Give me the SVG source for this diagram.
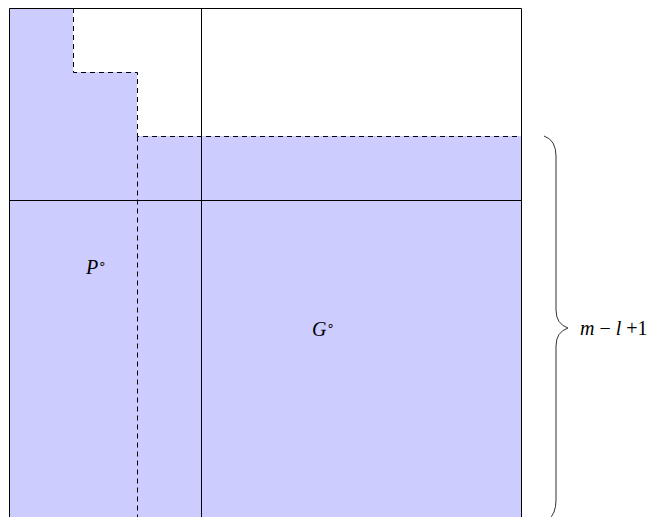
<svg xmlns="http://www.w3.org/2000/svg" width="650" height="517" viewBox="0 0 650 517">
<style>
.solid{fill:none;stroke:#000;stroke-width:1}
.dash{fill:none;stroke:#000;stroke-width:1;stroke-dasharray:5,4}
.lbl{font-family:"Liberation Serif",serif;font-style:italic;font-size:20px;fill:#000}
.up{font-family:"Liberation Serif",serif;font-style:normal;font-size:20px;fill:#000}
.sup{font-family:"DejaVu Sans",sans-serif;font-style:normal;font-size:13px;fill:#000}
</style>
<rect width="650" height="517" fill="#fff"/>
<g id="shade">
<path d="M9.5,8 H73 V72 H137 V136 H521.5 V530 H9.5 Z" fill="#ccccff"/>
</g>
<g id="frame">
<path class="solid" d="M9.5,530 V8.5 H521.5 V530"/>
<line class="solid" x1="201.5" y1="8" x2="201.5" y2="530"/>
<line class="solid" x1="9.5" y1="200.5" x2="521.5" y2="200.5"/>
</g>
<g id="staircase">
<path class="dash" d="M73.5,8 V72.5 H137.5 V136.5 H521.5"/>
<line class="dash" x1="137.5" y1="136.5" x2="137.5" y2="530"/>
</g>
<g id="brace">
<path fill="none" stroke="#333" stroke-width="1" d="M544,136 Q556,140 556,156 V310 Q556,324 568,328 Q556,332 556,346 V500 Q556,514 548,520"/>
</g>
<g id="labels">
<text class="lbl" x="86" y="274">P<tspan class="sup" dy="-6">∘</tspan></text>
<text class="lbl" x="312" y="336">G<tspan class="sup" dy="-6">∘</tspan></text>
<text class="lbl" x="580" y="335">m <tspan class="up">−</tspan> l <tspan class="up">+1</tspan></text>
</g>
</svg>
